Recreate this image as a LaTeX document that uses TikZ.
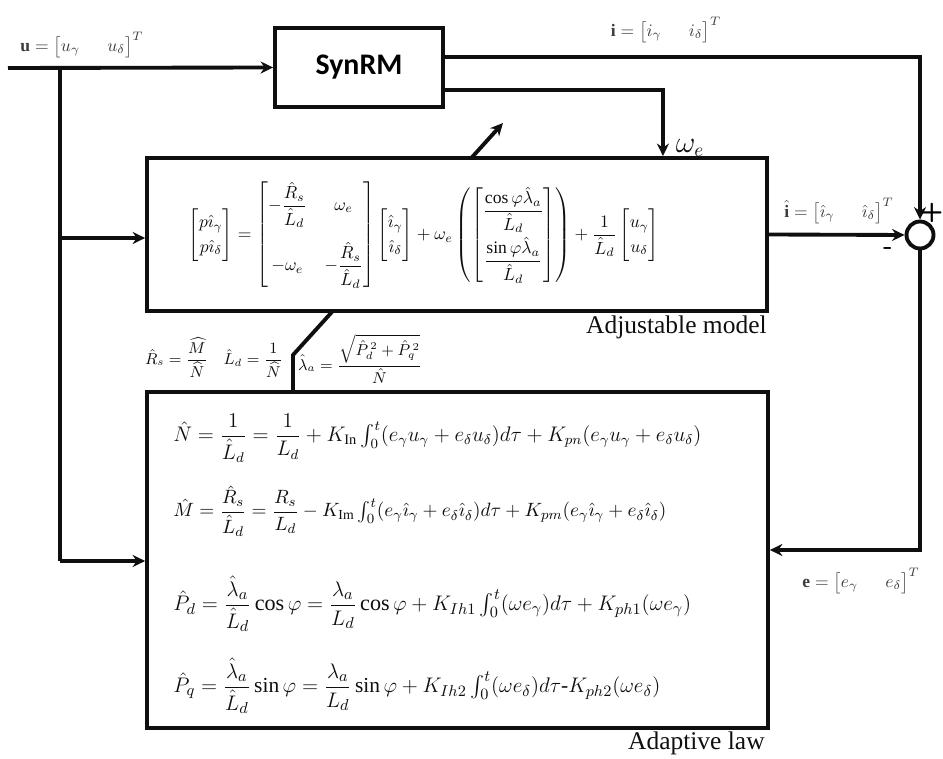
\documentclass[tikz,border=0pt]{standalone}
\usepackage{amsmath}
\usepackage{fontspec}
\setmainfont{Liberation Serif}
\newfontfamily\carlito{Carlito}
\usetikzlibrary{arrows.meta,positioning,calc}
\definecolor{ink}{RGB}{15,15,15}
\definecolor{grayink}{RGB}{60,60,60}
\tikzset{
  >={Stealth[length=2.5mm,width=2.4mm]},
  block/.style={draw=ink,fill=white,line width=2.2pt,inner sep=0pt},
  sig/.style={line width=2.2pt,draw=ink},
  flow/.style={sig,->},
  sumpt/.style={circle,draw=ink,fill=white,line width=2.2pt,minimum size=5.4mm,inner sep=0pt},
  lbl/.style={font=\fontsize{10}{12}\selectfont,text=grayink,inner sep=1pt},
  eqn/.style={font=\fontsize{#1}{14}\selectfont,anchor=west,inner sep=0pt,text=ink},
  eqn/.default=12,
  boxcaption/.style={font=\fontsize{14.5}{16}\selectfont,anchor=east,inner sep=0pt,text=ink},
  sgn/.style={font=\sffamily\bfseries\fontsize{15}{15}\selectfont,inner sep=0pt},
}

\begin{document}
\begin{tikzpicture}[x=0.02cm,y=-0.02cm]
  \useasboundingbox (0,0) rectangle (943,759);
  \node[block,minimum width=3.36cm,minimum height=1.58cm,font=\carlito\bfseries\fontsize{17}{20}\selectfont] (synrm) at (359,67.5) {SynRM};
  \node[block,minimum width=12.42cm,minimum height=6.72cm] (adapt) at (457.5,560) {};
  \coordinate (kink) at (293,355);
  \coordinate (tune) at (503,123);
  \draw[flow] (adapt.north -| kink) -- (kink) -- (tune);
  \node[block,minimum width=12.4cm,minimum height=3.06cm] (model) at (457,234.5) {};
  \node[sumpt] (sum) at (920,235) {};

  \coordinate (uin) at (8,68);
  \coordinate (split) at (60,68);
  \coordinate (tapm) at (60,238);
  \coordinate (tapa) at (60,561);
  \draw[flow] (uin) -- (synrm.west);
  \draw[sig] (split) -- (tapa);
  \draw[flow] (tapm) -- (tapm -| model.west);
  \draw[flow] (tapa) -- (tapa -| adapt.west);
  \draw[flow] ([yshift=0.21cm]synrm.east) -| (sum.north);
  \draw[flow] ([yshift=-0.45cm]synrm.east) -| ([xshift=4.12cm]model.north);
  \draw[flow] (model.east) -- (sum.west);
  \draw[flow] (sum.south) |- ([yshift=0.2cm]adapt.east);

  \node[lbl] (ulab) at (82,45) {$\mathbf{u}=\begin{bmatrix}u_\gamma & \;\;u_\delta\end{bmatrix}^T$};
  \node[lbl] (ilab) at (666,30) {$\mathbf{i}=\begin{bmatrix}i_\gamma & \;\;i_\delta\end{bmatrix}^T$};
  \node[lbl] (ihlab) at (839,211) {$\hat{\mathbf{i}}=\begin{bmatrix}\hat\imath_\gamma & \;\;\hat\imath_\delta\end{bmatrix}^T$};
  \node[lbl] (elab) at (861,581) {$\mathbf{e}=\begin{bmatrix}e_\gamma & \;\;e_\delta\end{bmatrix}^T$};
  \node[font=\fontsize{16}{16}\selectfont,text=ink] (wlab) at (690,148) {$\omega_e$};
  \node[sgn] (plus) at (932,213) {+};
  \node[sgn] (minus) at (888,251) {-};

  \node[eqn=10,anchor=center] (modeleq) at (424,235) {$\begin{bmatrix}p\hat\imath_\gamma\\ p\hat\imath_\delta\end{bmatrix}=\begin{bmatrix}-\dfrac{\hat R_s}{\hat L_d} & \omega_e\\[14pt] -\omega_e & -\dfrac{\hat R_s}{\hat L_d}\end{bmatrix}\begin{bmatrix}\hat\imath_\gamma\\ \hat\imath_\delta\end{bmatrix}+\omega_e\left(\begin{bmatrix}\dfrac{\cos\varphi\hat\lambda_a}{\hat L_d}\\[8pt] \dfrac{\sin\varphi\hat\lambda_a}{\hat L_d}\end{bmatrix}\right)+\dfrac{1}{\hat L_d}\begin{bmatrix}u_\gamma\\ u_\delta\end{bmatrix}$};
  \node[boxcaption] (modelcap) at (767,327) {Adjustable model};

  \node[lbl,font=\fontsize{9}{11}\selectfont,text=ink] (rslab) at (214,358) {$\hat R_s=\dfrac{\widehat M}{\widehat N}\quad\hat L_d=\dfrac{1}{\widehat N}$};
  \node[lbl,font=\fontsize{9}{11}\selectfont,text=ink] (lamlab) at (360,359) {$\hat\lambda_a=\dfrac{\sqrt{\hat P_d^{\,2}+\hat P_q^{\,2}}}{\hat N}$};

  \node[eqn=11.7] (neq) at (173,438) {$\hat N=\dfrac{1}{\hat L_d}=\dfrac{1}{L_d}+K_{\mathrm{In}}\int_0^t(e_\gamma u_\gamma+e_\delta u_\delta)d\tau+K_{pn}(e_\gamma u_\gamma+e_\delta u_\delta)$};
  \node[eqn=11.2] (meq) at (173,511) {$\hat M=\dfrac{\hat R_s}{\hat L_d}=\dfrac{R_s}{L_d}-K_{\mathrm{Im}}\int_0^t(e_\gamma\hat\imath_\gamma+e_\delta\hat\imath_\delta)d\tau+K_{pm}(e_\gamma\hat\imath_\gamma+e_\delta\hat\imath_\delta)$};
  \node[eqn=12.6] (pdeq) at (173,604) {$\hat P_d=\dfrac{\hat\lambda_a}{\hat L_d}\cos\varphi=\dfrac{\lambda_a}{L_d}\cos\varphi+K_{Ih1}\int_0^t(\omega e_\gamma)d\tau+K_{ph1}(\omega e_\gamma)$};
  \node[eqn=12.2] (pqeq) at (173,686) {$\hat P_q=\dfrac{\hat\lambda_a}{\hat L_d}\sin\varphi=\dfrac{\lambda_a}{L_d}\sin\varphi+K_{Ih2}\int_0^t(\omega e_\delta)d\tau\mbox{-}K_{ph2}(\omega e_\delta)$};
  \node[boxcaption] (adaptcap) at (765,743) {Adaptive law};
\end{tikzpicture}
\end{document}
